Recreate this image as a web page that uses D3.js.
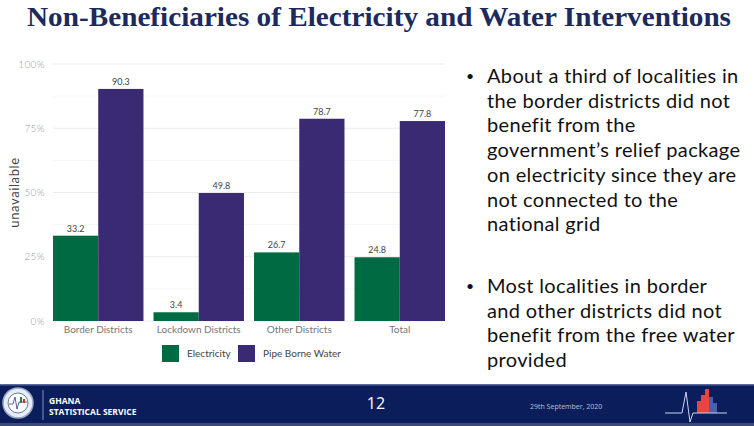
<!DOCTYPE html>
<html>
<head>
<meta charset="utf-8">
<script src="https://cdn.jsdelivr.net/npm/d3@7"></script>
<style>
  body { margin: 0; background: #fff; }
  svg { display: block; }
</style>
</head>
<body>
<div id="slide"></div>
<script>
// chart values
var categories = ["Border Districts", "Lockdown Districts", "Other Districts", "Total"];
var seriesNames = ["Electricity", "Pipe Borne Water"];
var electricity = [33.2, 3.4, 26.7, 24.8];
var pipeWater = [90.3, 49.8, 78.7, 77.8];
var yTicks = [0, 25, 50, 75, 100];
var yMinor = [12.5, 37.5, 62.5, 87.5];

var bullets = [
  ["About a third of localities in", "the border districts did not", "benefit from the",
   "government\u2019s relief package", "on electricity since they are", "not connected to the", "national grid"],
  ["Most localities in border", "and other districts did not", "benefit from the free water", "provided"]
];

var width = 754;
var height = 426;
var colors = ["#006b42", "#3a2a73"];
var labelFont = "Lato, 'Open Sans', sans-serif";

var svg = d3.select("#slide").append("svg")
  .attr("width", width)
  .attr("height", height);

// title
svg.append("text")
  .attr("x", 27).attr("y", 26)
  .attr("font-family", "'Liberation Serif', 'DejaVu Serif', serif")
  .attr("font-weight", "bold")
  .attr("font-size", 27)
  .attr("fill", "#1c2a5c")
  .attr("textLength", 704)
  .attr("lengthAdjust", "spacingAndGlyphs")
  .text("Non-Beneficiaries of Electricity and Water Interventions");

// panel (names avoid window.top)
var panelLeft = 53, panelRight = 445, panelTop = 64, panelBottom = 321;

var x0 = d3.scaleBand().domain(categories).range([panelLeft, panelRight]).paddingInner(0.1).paddingOuter(0);
var x1 = d3.scaleBand().domain(seriesNames).range([0, x0.bandwidth()]);
var y = d3.scaleLinear().domain([0, 100]).range([panelBottom, panelTop]);

var grid = svg.append("g");
grid.selectAll("line.minor").data(yMinor).enter().append("line")
  .attr("x1", panelLeft).attr("x2", panelRight)
  .attr("y1", function (d) { return y(d); }).attr("y2", function (d) { return y(d); })
  .attr("stroke", "#f4f4f4").attr("stroke-width", 0.8);
grid.selectAll("line.major").data(yTicks).enter().append("line")
  .attr("x1", panelLeft).attr("x2", panelRight)
  .attr("y1", function (d) { return y(d); }).attr("y2", function (d) { return y(d); })
  .attr("stroke", "#ebebeb").attr("stroke-width", 1);

// y axis labels
var yAxis = svg.append("g")
  .attr("transform", "translate(" + (panelLeft - 5) + ",0)")
  .call(d3.axisLeft(y).tickValues(yTicks).tickSize(0).tickFormat(function (d) { return d + "%"; }));
yAxis.select(".domain").remove();
yAxis.selectAll("text")
  .attr("font-family", labelFont).attr("font-size", 10).attr("fill", "#999")
  .attr("font-weight", 300).attr("letter-spacing", 0.4);

svg.append("text")
  .attr("transform", "translate(19," + ((panelTop + panelBottom) / 2) + ") rotate(-90)")
  .attr("text-anchor", "middle")
  .attr("font-family", labelFont).attr("font-size", 13).attr("fill", "#444")
  .attr("letter-spacing", 0.6)
  .text("unavailable");

// x axis labels
var xAxis = svg.append("g")
  .attr("transform", "translate(0," + panelBottom + ")")
  .call(d3.axisBottom(x0).tickSize(0).tickPadding(5));
xAxis.select(".domain").remove();
xAxis.selectAll("text")
  .attr("font-family", labelFont).attr("font-size", 10).attr("fill", "#777");

// bars
var rows = categories.map(function (c, i) {
  return { cat: c, values: [electricity[i], pipeWater[i]] };
});

var groups = svg.selectAll("g.grp").data(rows).enter().append("g")
  .attr("class", "grp")
  .attr("transform", function (d) { return "translate(" + x0(d.cat) + ",0)"; });

groups.selectAll("rect").data(function (d) {
  return d.values.map(function (v, j) { return { name: seriesNames[j], value: v, k: j }; });
}).enter().append("rect")
  .attr("x", function (d) { return x1(d.name); })
  .attr("width", x1.bandwidth())
  .attr("y", function (d) { return y(d.value); })
  .attr("height", function (d) { return panelBottom - y(d.value); })
  .attr("fill", function (d) { return colors[d.k]; });

groups.selectAll("text").data(function (d) {
  return d.values.map(function (v, j) { return { name: seriesNames[j], value: v }; });
}).enter().append("text")
  .attr("x", function (d) { return x1(d.name) + x1.bandwidth() / 2; })
  .attr("y", function (d) { return y(d.value) - 4; })
  .attr("text-anchor", "middle")
  .attr("font-family", labelFont).attr("font-size", 9).attr("fill", "#444")
  .text(function (d) { return d.value.toFixed(1); });

// legend
var legend = svg.append("g").attr("transform", "translate(162,345)");
var legendX = [0, 76];
seriesNames.forEach(function (s, i) {
  legend.append("rect")
    .attr("x", legendX[i]).attr("y", 0).attr("width", 17).attr("height", 17)
    .attr("fill", colors[i]);
  legend.append("text")
    .attr("x", legendX[i] + 25).attr("y", 12)
    .attr("font-family", labelFont).attr("font-size", 10).attr("fill", "#444")
    .text(s);
});

// bullet text on the right
var textFont = "Lato, 'Open Sans', sans-serif";
var lineGap = 24.7;
var startY = [83, 293];
bullets.forEach(function (lines, b) {
  svg.append("text")
    .attr("x", 466).attr("y", startY[b] - 2)
    .attr("font-family", textFont).attr("font-size", 14).attr("fill", "#111")
    .text("\u2022");
  lines.forEach(function (line, i) {
    svg.append("text")
      .attr("x", 487).attr("y", startY[b] + i * lineGap)
      .attr("font-family", textFont).attr("font-size", 20).attr("fill", "#111")
      .attr("letter-spacing", 0.35)
      .text(line);
  });
});

// footer band
var footer = svg.append("g").attr("transform", "translate(0,384)");
footer.append("rect").attr("width", width).attr("height", 42).attr("fill", "#0b1e5b");
footer.append("rect").attr("width", width).attr("height", 1.5).attr("fill", "#5a6a9a");
footer.append("rect").attr("y", 39).attr("width", width).attr("height", 3).attr("fill", "#3c4a78");

// left emblem
footer.append("circle").attr("cx", 18).attr("cy", 19).attr("r", 15).attr("fill", "#e8ecf4").attr("stroke", "#9aa6c6").attr("stroke-width", 1.5);
footer.append("circle").attr("cx", 18).attr("cy", 19).attr("r", 10).attr("fill", "#ffffff").attr("stroke", "#4a5a8e").attr("stroke-width", 0.8);
footer.append("path").attr("d", "M9,20 L13,20 L15,13 L17,25 L19,18 L27,18").attr("fill", "none").attr("stroke", "#2a3a7a").attr("stroke-width", 0.8);
footer.append("rect").attr("x", 20).attr("y", 13).attr("width", 2).attr("height", 6).attr("fill", "#2f7f3a");
footer.append("rect").attr("x", 23).attr("y", 15).attr("width", 2).attr("height", 4).attr("fill", "#c0392b");
footer.append("line").attr("x1", 43).attr("x2", 43).attr("y1", 6).attr("y2", 36).attr("stroke", "#8090c0").attr("stroke-width", 1);
footer.append("text").attr("x", 49).attr("y", 20)
  .attr("font-family", "'Open Sans', sans-serif").attr("font-weight", "bold").attr("font-size", 8.5).attr("fill", "#fff")
  .text("GHANA");
footer.append("text").attr("x", 49).attr("y", 31)
  .attr("font-family", "'Open Sans', sans-serif").attr("font-weight", "bold").attr("font-size", 8.5).attr("fill", "#fff")
  .text("STATISTICAL SERVICE");

// page number and date
footer.append("text").attr("x", 376).attr("y", 25).attr("text-anchor", "middle")
  .attr("font-family", "'Open Sans', sans-serif").attr("font-size", 16).attr("fill", "#fff")
  .text("12");
footer.append("text").attr("x", 530).attr("y", 25)
  .attr("font-family", "'Open Sans', sans-serif").attr("font-size", 7).attr("fill", "#b8c0d8")
  .text("29th September, 2020");

// right emblem: pulse line with small bars
var em = footer.append("g").attr("transform", "translate(665,0)");
em.append("rect").attr("x", 32).attr("y", 17).attr("width", 4).attr("height", 12).attr("fill", "#e8453c");
em.append("rect").attr("x", 36).attr("y", 11).attr("width", 4).attr("height", 18).attr("fill", "#e8453c");
em.append("rect").attr("x", 40).attr("y", 5).attr("width", 4).attr("height", 24).attr("fill", "#e8453c");
em.append("rect").attr("x", 44).attr("y", 13).attr("width", 4).attr("height", 16).attr("fill", "#4a5fb0");
em.append("rect").attr("x", 48).attr("y", 19).attr("width", 4).attr("height", 10).attr("fill", "#4a5fb0");
em.append("path").attr("d", "M0,29 L17,29 L21,8 L25,38 L28,29 L62,29")
  .attr("fill", "none").attr("stroke", "#c8d4f0").attr("stroke-width", 1);
</script>
</body>
</html>
